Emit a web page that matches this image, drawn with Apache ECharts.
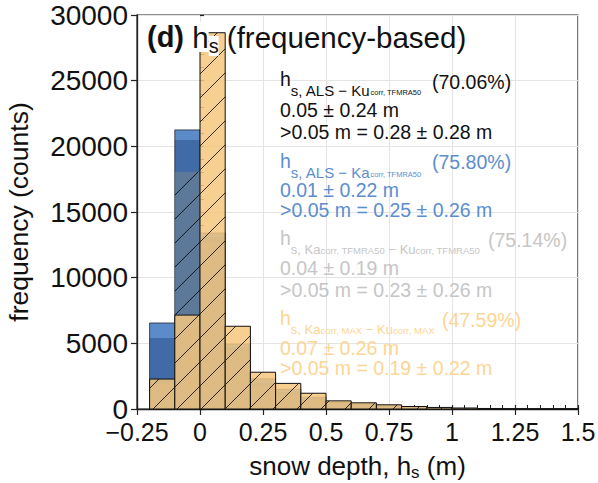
<!DOCTYPE html>
<html><head><meta charset="utf-8">
<script src="https://cdn.jsdelivr.net/npm/echarts@6/dist/echarts.min.js"></script>
<style>html,body{margin:0;padding:0;background:#fff}#c{width:598px;height:483px}</style>
</head><body><div id="c"></div>
<script>
// ---- data ----
const binEdges = [-0.2,-0.1,0,0.1,0.2,0.3,0.4,0.5,0.6,0.7,0.8,0.9,1.0,1.1,1.2,1.3,1.4,1.5];
const countsAlsKa   = [6550, 21250, 13400, 4950, 2300, 1500, 900, 500, 380, 240, 140, 90, 55, 35, 20, 12, 8];
const countsKaKuTf  = [5400, 20480, 13100, 4700, 2000, 1300, 800, 420, 320, 200, 120, 75, 45, 28, 16, 10, 6];
const countsAlsKu   = [1900, 18070, 12700, 4430, 1760, 1100, 700, 400, 300, 230, 140, 90, 55, 35, 20, 12, 8];
const countsKaKuMax = [2280, 7150, 28650, 6300, 2800, 1950, 1200, 620, 470, 320, 190, 120, 70, 40, 22, 12, 6];
const xTickValues = [-0.25, 0, 0.25, 0.5, 0.75, 1, 1.25, 1.5];
const xTickText   = ['\u22120.25', '0', '0.25', '0.5', '0.75', '1', '1.25', '1.5'];
const yTickText   = ['0', '5000', '10000', '15000', '20000', '25000', '30000'];
const annoSubs = [
  [['h',0],['s, ALS \u2212 Ku',1],['corr, TFMRA50',2]],
  [['h',0],['s, ALS \u2212 Ka',1],['corr, TFMRA50',2]],
  [['h',0],['s, Ka',1],['corr, TFMRA50',2],[' \u2212 Ku',1],['corr, TFMRA50',2]],
  [['h',0],['s, Ka',1],['corr, MAX',2],[' \u2212 Ku',1],['corr, MAX',2]]
];
const annoPct  = ['(70.06%)', '(75.80%)', '(75.14%)', '(47.59%)'];
const annoMean = ['0.05 \u00b1 0.24 m', '0.01 \u00b1 0.22 m', '0.04 \u00b1 0.19 m', '0.07 \u00b1 0.26 m'];
const annoGt   = ['>0.05 m = 0.28 \u00b1 0.28 m', '>0.05 m = 0.25 \u00b1 0.26 m', '>0.05 m = 0.23 \u00b1 0.26 m', '>0.05 m = 0.19 \u00b1 0.22 m'];

// ---- layout / style ----
const FONT = '"Liberation Sans", Arial, Helvetica, sans-serif';
const annoColors = ['#111111', '#5b8ecf', '#c6c6c6', '#fdd596'];
const annoLayout = [
  {c1: 81,  pctX: 432, pctC: 82,  c2: 110, c3: 132, f1: 15, f2: 7.5},
  {c1: 163, pctX: 432, pctC: 162, c2: 190, c3: 210, f1: 15, f2: 7.5},
  {c1: 240, pctX: 488, pctC: 240, c2: 268, c3: 290, f1: 13, f2: 9.5},
  {c1: 320, pctX: 442, pctC: 320, c2: 348, c3: 368, f1: 13, f2: 9.5}
];
const AX = 280, FS = 19.5;

function toBins(counts) {
  return counts.map((v, i) => [binEdges[i], binEdges[i + 1], v]);
}
const HATCH = 24, PHASE = 10;
function makeRender(fill, stroke, hatch) {
  return function (params, api) {
    const x0 = api.value(0), x1 = api.value(1), v = api.value(2);
    if (!(v > 0)) return;
    const a = api.coord([x0, v]), b = api.coord([x1, 0]);
    const L = a[0], T = a[1], R = b[0], B = b[1];
    const ch = [{type: 'rect', shape: {x: L, y: T, width: R - L, height: B - T}, style: {fill: fill, stroke: null}}];
    if (hatch) {
      const k0 = Math.ceil((L + T - PHASE) / HATCH), k1 = Math.floor((R + B - PHASE) / HATCH);
      for (let k = k0; k <= k1; k++) {
        const c = PHASE + k * HATCH;
        const xa = Math.max(L, c - B), xb = Math.min(R, c - T);
        if (xb - xa > 0.3) {
          ch.push({type: 'line', shape: {x1: xa, y1: c - xa, x2: xb, y2: c - xb},
                   style: {stroke: 'rgba(0,0,0,0.8)', lineWidth: 1}});
        }
      }
    }
    if (stroke) ch.push({type: 'rect', shape: {x: L, y: T, width: R - L, height: B - T}, style: {fill: null, stroke: stroke, lineWidth: 1}});
    return {type: 'group', children: ch};
  };
}

const titles = [{
  left: 147, top: 22, padding: 0,
  text: '{d|(d)}{t| }{h|h}{s|s}{t| (frequency-based)}',
  textStyle: {
    fontWeight: 'normal',
    rich: {
      d: {fontSize: 29, fontWeight: 'bold', lineHeight: 34, verticalAlign: 'top', color: '#111', fontFamily: FONT},
      t: {fontSize: 29.5, fontWeight: 'normal', lineHeight: 34, verticalAlign: 'top', color: '#111', fontFamily: FONT},
      h: {fontSize: 29.5, fontWeight: 'normal', lineHeight: 34, verticalAlign: 'top', color: '#111', fontFamily: FONT, backgroundColor: '#fff'},
      s: {fontSize: 20, fontWeight: 'normal', lineHeight: 14, verticalAlign: 'bottom', color: '#111', fontFamily: FONT, backgroundColor: '#fff'}
    }
  }
}];
annoSubs.forEach((parts, i) => {
  const col = annoColors[i], Ly = annoLayout[i];
  const f1 = Ly.f1, f2 = Ly.f2;
  titles.push({
    left: AX, top: Ly.c1 - 12, padding: 0,
    text: parts.map(p => '{' + ['m', 'a', 'b'][p[1]] + '|' + p[0] + '}').join(''),
    textStyle: {fontWeight: 'normal', rich: {
      m: {fontSize: FS, fontWeight: 'normal', lineHeight: 24, verticalAlign: 'top', color: col, fontFamily: FONT},
      a: {fontSize: f1, fontWeight: 'normal', lineHeight: f1, padding: [21 - f1 / 2, 0, 0, 0], verticalAlign: 'top', color: col, fontFamily: FONT},
      b: {fontSize: f2, fontWeight: 'normal', lineHeight: f2, padding: [25.5 - 0.85 * f2, 0, 0, 0], verticalAlign: 'top', color: col, fontFamily: FONT}
    }}
  });
  const plain = {fontSize: FS, lineHeight: 16, fontWeight: 'normal', color: col, fontFamily: FONT};
  titles.push({left: Ly.pctX, top: Ly.pctC - 8, padding: 0, text: annoPct[i], textStyle: plain});
  titles.push({left: AX, top: Ly.c2 - 8, padding: 0, text: annoMean[i], textStyle: plain});
  titles.push({left: AX, top: Ly.c3 - 8, padding: 0, text: annoGt[i], textStyle: plain});
});

const AXC = '#222';
const option = {
  backgroundColor: '#fff',
  animation: false,
  title: titles,
  grid: {left: 137, right: 20, top: 15, bottom: 74, show: true, borderColor: AXC, borderWidth: 1.2,
         backgroundColor: 'transparent', outerBoundsMode: 'none'},
  xAxis: [{
    type: 'value', min: -0.25, max: 1.5, interval: 0.25, position: 'bottom',
    name: 'snow depth, h{s|s} (m)', nameLocation: 'middle', nameGap: 42,
    nameTextStyle: {fontSize: 26, lineHeight: 30, color: '#111', fontFamily: FONT,
      rich: {s: {fontSize: 17, lineHeight: 10, verticalAlign: 'bottom', color: '#111', fontFamily: FONT}}},
    axisLine: {show: true, onZero: false, lineStyle: {color: AXC, width: 1.3}},
    axisTick: {show: true, inside: false, length: 6, lineStyle: {color: AXC, width: 1.2}},
    axisLabel: {fontSize: 25, lineHeight: 20, color: '#111', fontFamily: FONT, margin: 13,
      formatter: v => { const i = xTickValues.findIndex(t => Math.abs(t - v) < 1e-9); return i >= 0 ? xTickText[i] : ''; }},
    splitLine: {show: true, lineStyle: {color: '#e4e4e4', width: 1}},
    minorTick: {show: false}
  }, {
    type: 'value', min: -0.25, max: 1.5, interval: 0.25, position: 'bottom',
    axisLine: {show: false}, axisLabel: {show: false}, splitLine: {show: false},
    axisTick: {show: true, inside: true, length: 4, lineStyle: {color: AXC, width: 1.2}},
    minorTick: {show: true, splitNumber: 5, length: 4, lineStyle: {color: AXC, width: 1}}
  }],
  yAxis: [{
    type: 'value', min: 0, max: 30000, interval: 5000, position: 'left',
    name: 'frequency (counts)', nameLocation: 'middle', nameGap: 105,
    nameTextStyle: {fontSize: 26.5, color: '#111', fontFamily: FONT},
    axisLine: {show: true, onZero: false, lineStyle: {color: AXC, width: 1.3}},
    axisTick: {show: true, inside: false, length: 6, lineStyle: {color: AXC, width: 1.2}},
    axisLabel: {fontSize: 28, lineHeight: 20, color: '#111', fontFamily: FONT, margin: 9,
      formatter: v => { const i = Math.round(v / 5000); return yTickText[i] !== undefined ? yTickText[i] : ''; }},
    splitLine: {show: true, lineStyle: {color: '#e4e4e4', width: 1}},
    minorTick: {show: false}
  }, {
    type: 'value', min: 0, max: 30000, interval: 5000, position: 'left',
    axisLine: {show: false}, axisLabel: {show: false}, splitLine: {show: false},
    axisTick: {show: true, inside: true, length: 4, lineStyle: {color: AXC, width: 1.2}},
    minorTick: {show: true, splitNumber: 5, length: 4, lineStyle: {color: AXC, width: 1}}
  }],
  series: [
    {type: 'custom', name: 'ALS-Ka', renderItem: makeRender('#5b8bc9', 'rgba(30,30,40,0.75)', false),
     data: toBins(countsAlsKa), encode: {x: [0, 1], y: 2}, xAxisIndex: 0, yAxisIndex: 0},
    {type: 'custom', name: 'Ka-Ku TFMRA50', renderItem: makeRender('rgba(20,55,110,0.38)', null, false),
     data: toBins(countsKaKuTf), encode: {x: [0, 1], y: 2}, xAxisIndex: 0, yAxisIndex: 0},
    {type: 'custom', name: 'ALS-Ku', renderItem: makeRender('rgba(130,140,135,0.42)', null, true),
     data: toBins(countsAlsKu), encode: {x: [0, 1], y: 2}, xAxisIndex: 0, yAxisIndex: 0},
    {type: 'custom', name: 'Ka-Ku MAX', renderItem: makeRender('rgba(245,199,126,0.85)', '#111', true),
     data: toBins(countsKaKuMax), encode: {x: [0, 1], y: 2}, xAxisIndex: 0, yAxisIndex: 0}
  ]
};
const chart = echarts.init(document.getElementById('c'), null, {renderer: 'svg'});
chart.setOption(option);
</script></body></html>
